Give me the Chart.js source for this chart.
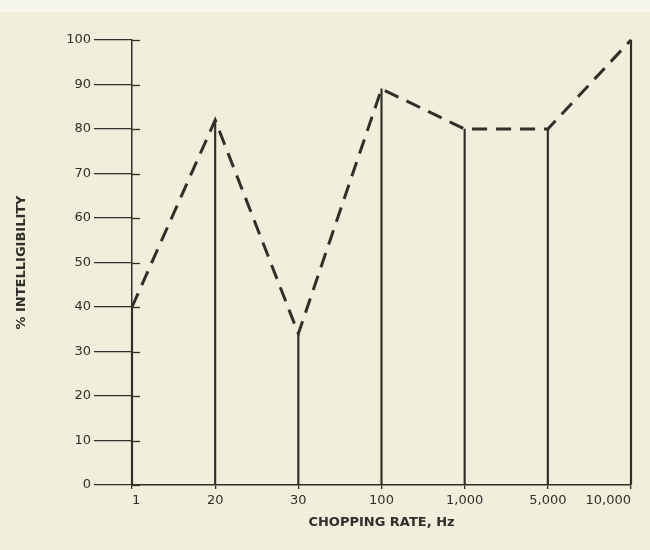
<!DOCTYPE html>
<html>
<head>
<meta charset="utf-8">
<script src="https://cdn.jsdelivr.net/npm/chart.js@4.4.0/dist/chart.umd.min.js"></script>
<style>
  html, body { margin: 0; padding: 0; background: #f1eedb; }
  #wrap { width: 650px; height: 550px; }
</style>
</head>
<body>
<div id="wrap"><canvas id="chart" width="650" height="550"></canvas></div>
<script>
const rates = ['1', '20', '30', '100', '1,000', '5,000', '10,000'];
const intelligibility = [40, 82, 34, 89, 80, 80, 100];
const yTicks = [0, 10, 20, 30, 40, 50, 60, 70, 80, 90, 100];

const ink = '#2f2f2b';
const font = { family: '"DejaVu Sans", sans-serif', size: 13 };
const titleFont = { family: '"DejaVu Sans", sans-serif', size: 13, weight: 'bold' };

// paper background, slightly lighter strip along the top edge
const paper = {
    id: 'paper',
    beforeDraw(chart) {
        const ctx = chart.ctx;
        ctx.save();
        ctx.fillStyle = '#f1eedb';
        ctx.fillRect(0, 0, chart.width, chart.height);
        ctx.fillStyle = '#f7f6ee';
        ctx.fillRect(0, 0, chart.width, 12);
        ctx.restore();
    }
};

// small stubs of the y ticks poking through to the right of the axis
const tickStubs = {
    id: 'tickStubs',
    afterDraw(chart) {
        const y = chart.scales.y;
        const ctx = chart.ctx;
        ctx.save();
        ctx.strokeStyle = ink;
        ctx.lineWidth = 1.3;
        y.ticks.forEach(t => {
            const py = Math.round(y.getPixelForValue(t.value)) + 0.5;
            ctx.beginPath();
            ctx.moveTo(y.right, py);
            ctx.lineTo(y.right + 8, py);
            ctx.stroke();
        });
        ctx.restore();
    }
};

new Chart(document.getElementById('chart'), {
    data: {
        labels: rates,
        datasets: [
            {
                type: 'line',
                data: intelligibility,
                borderColor: ink,
                borderWidth: 3,
                borderDash: [15, 9],
                pointRadius: 0,
                tension: 0,
                clip: false
            },
            {
                type: 'bar',
                data: intelligibility,
                backgroundColor: ink,
                barThickness: 1.5,
                clip: false
            }
        ]
    },
    options: {
        responsive: false,
        animation: false,
        layout: { padding: { top: 40, right: 19, left: 0, bottom: 16 } },
        plugins: {
            legend: { display: false },
            tooltip: { enabled: false }
        },
        scales: {
            x: {
                type: 'category',
                offset: false,
                grid: { display: true, offset: false, drawOnChartArea: false, drawTicks: true, tickLength: 4, color: ink, lineWidth: 1.3 },
                border: { display: true, color: ink, width: 1.5 },
                ticks: { color: ink, font, padding: 4, maxRotation: 0, align: 'inner' },
                title: { display: true, text: 'CHOPPING RATE, Hz', color: ink, font: titleFont, padding: { top: 2 } },
                afterFit(scale) {
                    scale.height = 49;
                    scale.paddingLeft = 0;
                    scale.paddingRight = 0;
                }
            },
            y: {
                min: 0,
                max: 100,
                afterBuildTicks(scale) { scale.ticks = yTicks.map(v => ({ value: v })); },
                grid: { display: true, drawOnChartArea: false, drawTicks: true, tickLength: 38, color: ink, lineWidth: 1.3 },
                border: { display: true, color: ink, width: 1.5 },
                ticks: { color: ink, font, padding: 3 },
                title: { display: true, text: '% INTELLIGIBILITY', color: ink, font: titleFont, padding: { bottom: 0, top: 14 } },
                afterFit(scale) { scale.width = 132; }
            }
        }
    },
    plugins: [paper, tickStubs]
});
</script>
</body>
</html>
